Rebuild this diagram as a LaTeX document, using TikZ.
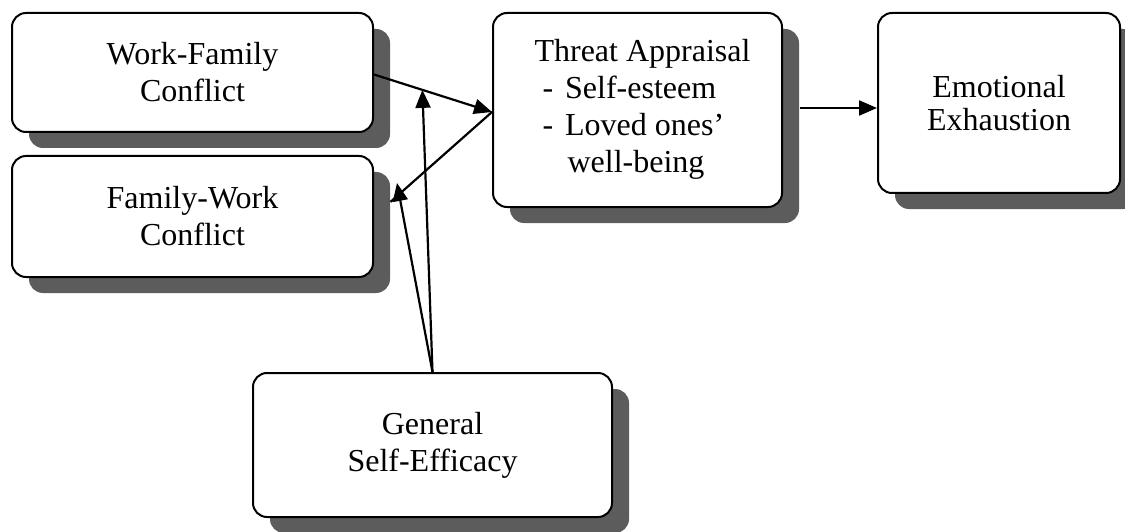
\documentclass[tikz,border=0pt]{standalone}
\usepackage{fontspec}
\setmainfont{Liberation Serif}
\usetikzlibrary{arrows.meta,shadows,calc}
\tikzset{
  box/.style={draw=black, line width=2pt, rounded corners=14pt, fill=white,
    inner sep=0pt, align=center, font=\fontsize{32}{37}\selectfont,
    drop shadow={shadow xshift=17pt, shadow yshift=-16pt, fill=black!64, opacity=1}},
  arr/.style={line width=2.2pt, -{Triangle[length=18pt,width=15pt]}},
  conn/.style={line width=2.2pt}
}
\begin{document}
\begin{tikzpicture}[x=1pt,y=-1pt]
\useasboundingbox (0,0) rectangle (1125,532);
\node[box, minimum width=361pt, minimum height=119pt] (WFC) at (192.5,72.5) {Work-Family\\Conflict};
\node[box, minimum width=361pt, minimum height=121pt] (FWC) at (192.5,216.5) {Family-Work\\Conflict};
\node[box, minimum width=289pt, minimum height=194pt] (TA) at (637.5,110)
  {\hspace*{10pt}\begin{tabular}{@{}l@{}}Threat Appraisal\\
   \hspace*{8pt}-\hspace*{12pt}Self-esteem\\
   \hspace*{8pt}-\hspace*{12pt}Loved ones'\\
   \hspace*{33pt}well-being\end{tabular}};
\node[box, minimum width=242pt, minimum height=180pt] (EE) at (999,103) {Emotional\\[-4pt]Exhaustion};
\node[box, minimum width=359pt, minimum height=144pt] (GSE) at (432.5,445) {General\\Self-Efficacy};

\draw[arr] ([yshift=-2pt]WFC.east) -- ([yshift=-2pt]TA.west);
\draw[conn, shorten >=22pt] ([yshift=-2pt]TA.west) -- (FWC.east);
\path ([yshift=-2pt]WFC.east) -- ([yshift=-2pt]TA.west) coordinate[pos=0.41] (m1);
\coordinate (m2) at (397,183);
\draw[arr] (GSE.north) -- (m1);
\draw[arr] (GSE.north) -- (m2);
\draw[arr] ([xshift=17pt,yshift=2pt]TA.east) -- ([yshift=2pt]TA.east -| EE.west);
\end{tikzpicture}
\end{document}
